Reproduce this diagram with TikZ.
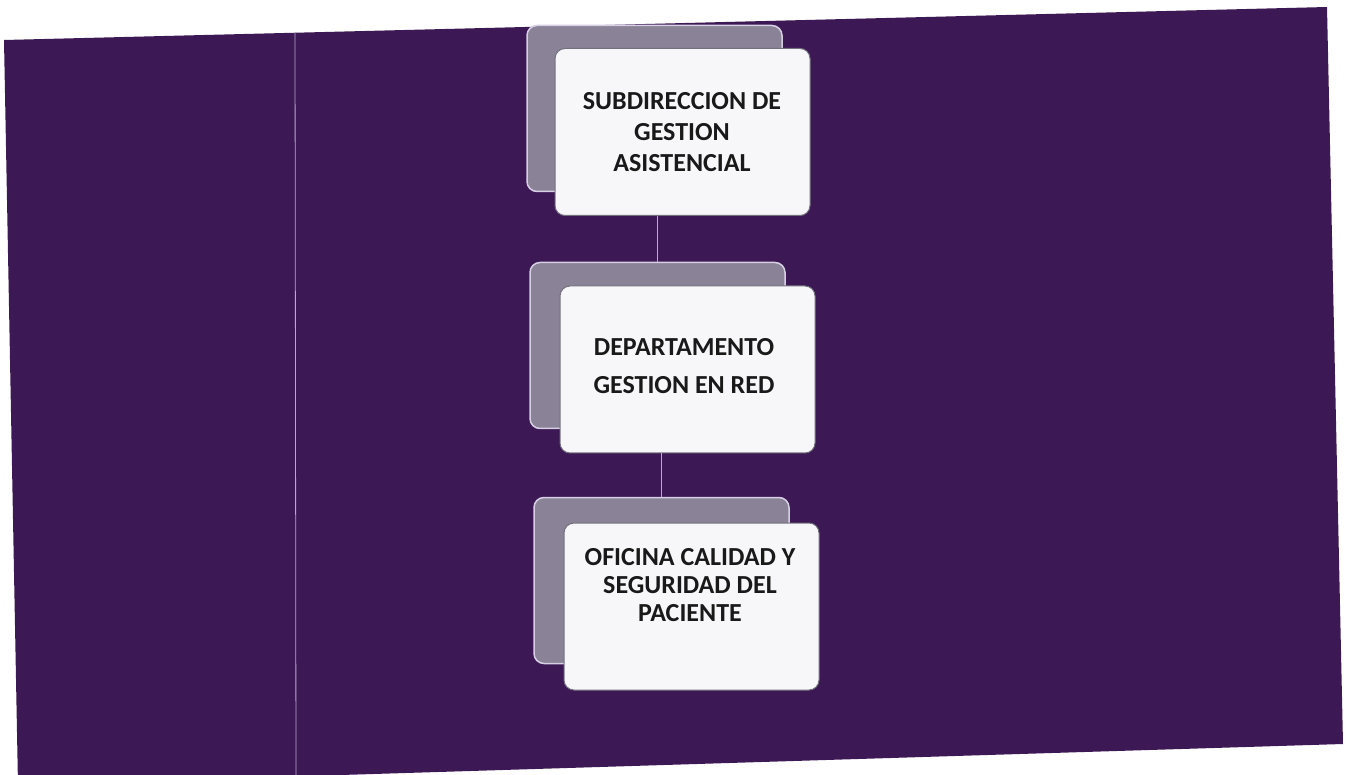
\documentclass[tikz,border=0pt]{standalone}
\usepackage{fontspec}
\setmainfont{Carlito}
\definecolor{bgpurple}{RGB}{60,24,84}
\definecolor{backgray}{RGB}{138,130,150}
\definecolor{backedge}{RGB}{215,208,228}
\definecolor{frontfill}{RGB}{247,247,250}
\definecolor{frontedge}{RGB}{115,112,125}
\definecolor{linecol}{RGB}{185,170,205}
\begin{document}
\begin{tikzpicture}[x=1pt,y=-1pt,
  backbox/.style={draw=backedge, line width=1.5pt, fill=backgray, rounded corners=10pt,
    minimum width=255pt, minimum height=166pt, inner sep=0pt},
  frontbox/.style={draw=frontedge, line width=1pt, fill=frontfill, rounded corners=10pt,
    minimum width=255pt, minimum height=167pt, inner sep=0pt},
  lbl/.style={font=\fontsize{26}{31}\selectfont\bfseries, align=center, text=black!90},
  conn/.style={draw=linecol, line width=0.8pt}]
\useasboundingbox (0,0) rectangle (1350,775);
\fill[white] (0,0) rectangle (1350,775);
% background sheet
\fill[bgpurple] (4,40) -- (1327,7) -- (1343,744) -- (18,785) -- cycle;
% separator line
\draw[linecol, line width=0.8pt] (295,32) -- (296,778);
% boxes
\node[backbox] (k1) at (654.5,108.5) {};
\node[frontbox] (f1) at (682.5,132) {};
\node[backbox] (k2) at (657.5,345.5) {};
\node[frontbox] (f2) at (687.5,369.5) {};
\node[backbox] (k3) at (661.5,580.5) {};
\node[frontbox] (f3) at (691.5,606.5) {};
% labels
\node[lbl] (t1) at (682,132) {SUBDIRECCION DE\\GESTION\\ASISTENCIAL};
\node[lbl, font=\fontsize{26}{38}\selectfont\bfseries] (t2) at (684,366) {DEPARTAMENTO\\GESTION EN RED};
\node[lbl, font=\fontsize{26}{28}\selectfont\bfseries] (t3) at (690,585) {OFICINA CALIDAD Y\\SEGURIDAD DEL\\PACIENTE};
% connectors
\draw[conn] (f1.south -| k2.north) -- (k2.north);
\draw[conn] (f2.south -| k3.north) -- (k3.north);
\end{tikzpicture}
\end{document}
